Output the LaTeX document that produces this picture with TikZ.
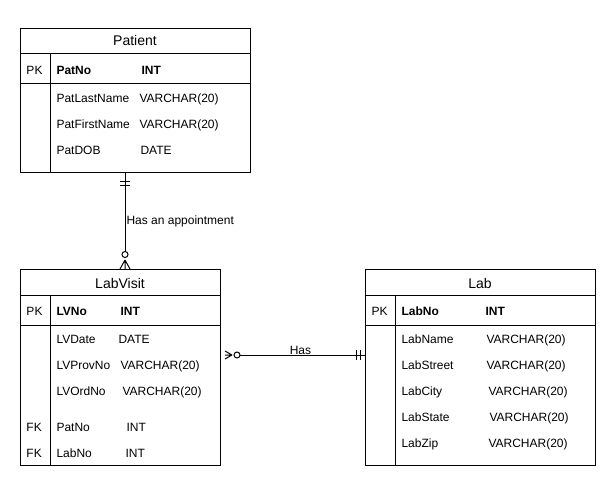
\documentclass[tikz,border=0pt]{standalone}
\usepackage{fontspec}
\setmainfont{Liberation Sans}
\usetikzlibrary{calc}
\begin{document}
\begin{tikzpicture}[x=1pt,y=-1pt,line width=1pt,
  tablebox/.style={draw,anchor=north west,inner sep=0,line width=1pt},
  cell/.style={anchor=west,inner sep=0,text height=8.6pt,text depth=0pt,font=\fontsize{12}{14}\selectfont},
  keycell/.style={cell,font=\fontsize{12}{14}\selectfont\bfseries},
  title/.style={inner sep=0,text height=10pt,text depth=0pt,font=\fontsize{14}{16}\selectfont},
  rel/.style={line width=1pt},
  lbl/.style={inner sep=0,text height=8.6pt,text depth=0pt,font=\fontsize{12}{14}\selectfont}]
\useasboundingbox[fill=white] (0,0) rectangle (616,489);

% ---------- Patient ----------
\node[tablebox,minimum width=230pt,minimum height=144pt] (patient) at (20,28) {};
\draw (20,54) -- (250,54) (20,84) -- (250,84) (50,54) -- (50,172);
\node[title] (patT) at (135,41) {Patient};
\node[cell] (patPK) at (26,70) {PK};
\node[keycell] (patNo) at (56,70) {PatNo};
\node[keycell] (patNoT) at (141,70) {INT};
\node[cell] (patLN) at (56,98) {PatLastName};
\node[cell] (patLNT) at (139,98) {VARCHAR(20)};
\node[cell] (patFN) at (56,124) {PatFirstName};
\node[cell] (patFNT) at (139,124) {VARCHAR(20)};
\node[cell] (patDOB) at (56,150) {PatDOB};
\node[cell] (patDOBT) at (140,150) {DATE};

% ---------- LabVisit ----------
\node[tablebox,minimum width=200pt,minimum height=196pt] (labvisit) at (20,269) {};
\draw (20,295) -- (220,295) (20,325) -- (220,325) (50,295) -- (50,465);
\node[title] (lvT) at (120,283) {LabVisit};
\node[cell] (lvPK) at (26,311) {PK};
\node[keycell] (lvNo) at (56,311) {LVNo};
\node[keycell] (lvNoT) at (120,311) {INT};
\node[cell] (lvDate) at (56,339) {LVDate};
\node[cell] (lvDateT) at (118,339) {DATE};
\node[cell] (lvProv) at (56,365) {LVProvNo};
\node[cell] (lvProvT) at (120,365) {VARCHAR(20)};
\node[cell] (lvOrd) at (56,391) {LVOrdNo};
\node[cell] (lvOrdT) at (122,391) {VARCHAR(20)};
\node[cell] (lvFK1) at (26,427) {FK};
\node[cell] (lvPat) at (56,427) {PatNo};
\node[cell] (lvPatT) at (126,427) {INT};
\node[cell] (lvFK2) at (26,453) {FK};
\node[cell] (lvLab) at (56,453) {LabNo};
\node[cell] (lvLabT) at (125,453) {INT};

% ---------- Lab ----------
\node[tablebox,minimum width=230pt,minimum height=196pt] (lab) at (365,269) {};
\draw (365,295) -- (595,295) (365,325) -- (595,325) (395,295) -- (395,465);
\node[title] (labT) at (480,283) {Lab};
\node[cell] (labPK) at (371,311) {PK};
\node[keycell] (labNo) at (401,311) {LabNo};
\node[keycell] (labNoT) at (485,311) {INT};
\node[cell] (labName) at (401,339) {LabName};
\node[cell] (labNameT) at (486,339) {VARCHAR(20)};
\node[cell] (labStreet) at (401,365) {LabStreet};
\node[cell] (labStreetT) at (486,365) {VARCHAR(20)};
\node[cell] (labCity) at (401,391) {LabCity};
\node[cell] (labCityT) at (488,391) {VARCHAR(20)};
\node[cell] (labState) at (401,417) {LabState};
\node[cell] (labStateT) at (489,417) {VARCHAR(20)};
\node[cell] (labZip) at (401,443) {LabZip};
\node[cell] (labZipT) at (488,443) {VARCHAR(20)};

% ---------- Patient (one) -- LabVisit (zero or many) ----------
\coordinate (r1a) at ($(patient.south west)+(105,0)$);
\coordinate (r1b) at ($(labvisit.north west)+(105,0)$);
\draw[rel] (r1a) -- ($(r1b)+(0,-17)$);
\draw[rel] ($(r1a)+(-5,9)$) -- ++(10,0) ($(r1a)+(-5,13)$) -- ++(10,0);
\draw[rel] ($(r1b)+(0,-14.5)$) circle (3);
\draw[rel] ($(r1b)+(0,-9)$) -- ($(r1b)+(-5,0)$)
           ($(r1b)+(0,-9)$) -- (r1b)
           ($(r1b)+(0,-9)$) -- ($(r1b)+(5,0)$);
\node[lbl,anchor=west] (r1lbl) at (126,220) {Has an appointment};

% ---------- LabVisit (zero or many) -- Lab (one) ----------
\coordinate (r2a) at ($(labvisit.north east)+(0,86)$);
\coordinate (r2b) at ($(lab.north west)+(0,86)$);
\draw[rel] ($(r2a)+(19,0)$) -- (r2b);
\draw[rel] ($(r2a)+(16,0)$) circle (3);
\draw[rel] ($(r2a)+(11,0)$) -- ($(r2a)+(4,-4)$)
           ($(r2a)+(11,0)$) -- ($(r2a)+(4,0)$)
           ($(r2a)+(11,0)$) -- ($(r2a)+(4,4)$);
\draw[rel] ($(r2b)+(-9,-5)$) -- ++(0,10) ($(r2b)+(-5,-5)$) -- ++(0,10);
\node[lbl] (r2lbl) at (300.5,350) {Has};
\end{tikzpicture}
\end{document}
